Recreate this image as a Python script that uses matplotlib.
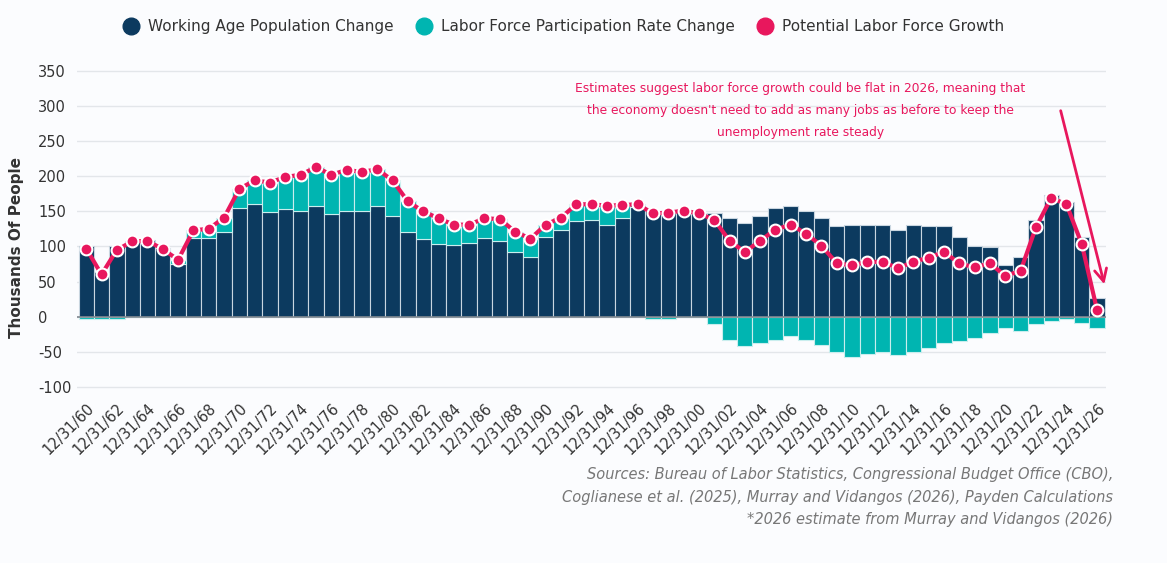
import numpy as np
import matplotlib.pyplot as plt
from matplotlib.lines import Line2D

# annual changes, thousands of people, 1960-2026
years = list(range(1960, 2027))
working_age = [100, 64, 100, 108, 109, 98, 75, 112, 112, 120,
               155, 160, 149, 153, 151, 158, 146, 151, 151, 158,
               144, 120, 111, 103, 102, 105, 112, 107, 92, 85,
               114, 124, 136, 138, 131, 141, 156, 150, 151, 151,
               148, 148, 141, 133, 143, 155, 158, 150, 140, 129,
               131, 131, 131, 124, 131, 129, 129, 113, 100, 99,
               73, 85, 138, 173, 163, 113, 26]
participation = [-3, -4, -4, 0, 0, -1, 6, 11, 13, 21,
                 27, 34, 42, 46, 51, 55, 56, 58, 55, 52,
                 50, 44, 39, 37, 29, 26, 28, 32, 29, 26,
                 17, 17, 24, 22, 27, 18, 4, -3, -3, 0,
                 -1, -10, -33, -42, -37, -33, -28, -33, -40, -51,
                 -58, -53, -51, -55, -51, -45, -38, -35, -31, -23,
                 -16, -21, -11, -6, -4, -9, -16]
potential = [97, 60, 95, 107, 108, 96, 81, 123, 125, 141,
             182, 194, 191, 199, 202, 213, 202, 209, 206, 210,
             194, 164, 150, 140, 131, 131, 140, 139, 121, 111,
             131, 141, 160, 160, 158, 159, 160, 147, 148, 151,
             147, 138, 108, 92, 108, 124, 131, 118, 101, 76,
             73, 78, 78, 69, 78, 84, 92, 76, 70, 76,
             58, 65, 127, 169, 160, 103, 9]
tick_labels = ['12/31/%02d' % (y % 100) for y in years[::2]]

navy = '#0c3a5f'
teal = '#00b5b1'
pink = '#e8175d'
bg = '#fbfcfe'

fig = plt.figure(figsize=(11.67, 5.63), dpi=100, facecolor=bg)
ax = fig.add_axes([0.066, 0.298, 0.882, 0.591], facecolor=bg)

x = np.arange(len(years))
wa = np.array(working_age)
pr = np.array(participation)
ax.bar(x, wa, width=1.0, color=navy, edgecolor='#c9d6e0', linewidth=0.8, zorder=2)
ax.bar(x, pr, width=1.0, bottom=np.where(pr > 0, wa, 0), color=teal,
       edgecolor='#c9eeee', linewidth=0.8, zorder=2)
ax.plot(x, potential, color=pink, lw=3, marker='o', ms=8.5, mfc=pink,
        mec='white', mew=1.5, zorder=4)

ax.set_xlim(-0.6, len(years) - 0.4)
ax.set_ylim(-112, 362)
ax.set_yticks(range(-100, 351, 50))
ax.set_yticklabels([str(v) for v in range(-100, 351, 50)], fontsize=10.5, color='#333333', ha='left')
ax.tick_params(axis='y', length=0, pad=28)
ax.set_xticks(x[::2])
ax.set_xticklabels(tick_labels, rotation=45, ha='right', rotation_mode='anchor', fontsize=10.5, color='#333333')
ax.tick_params(axis='x', length=0, pad=4)
ax.grid(axis='y', color='#e3e6ea', lw=1, zorder=0)
ax.axhline(0, color='#808890', lw=1.2, zorder=3)
for s in ax.spines.values():
    s.set_visible(False)
fig.text(0.014, 0.56, 'Thousands Of People', rotation=90, ha='center', va='center',
         fontsize=11, fontweight='bold', color='#333333')

handles = [Line2D([], [], marker='o', ls='', color=c, ms=12) for c in (navy, teal, pink)]
fig.legend(handles, ['Working Age Population Change', 'Labor Force Participation Rate Change',
                     'Potential Labor Force Growth'],
           loc='center', bbox_to_anchor=(0.48, 0.953), ncol=3, frameon=False, fontsize=11,
           handletextpad=0.1, columnspacing=1.0, labelcolor='#333333')

fig.text(0.686, 0.803, "Estimates suggest labor force growth could be flat in 2026, meaning that\n"
         "the economy doesn't need to add as many jobs as before to keep the\n"
         "unemployment rate steady", ha='center', va='center', color=pink, fontsize=8.8,
         linespacing=1.9)
fig.add_artist(plt.Annotation('', xy=(1105 / 1167, 1 - 287 / 563), xytext=(1060 / 1167, 1 - 108 / 563),
                              xycoords='figure fraction', textcoords='figure fraction',
                              arrowprops=dict(arrowstyle='->', color=pink, lw=2, mutation_scale=22)))

fig.text(0.954, 0.117, 'Sources: Bureau of Labor Statistics, Congressional Budget Office (CBO),\n'
         'Coglianese et al. (2025), Murray and Vidangos (2026), Payden Calculations\n'
         '*2026 estimate from Murray and Vidangos (2026)', ha='right', va='center',
         fontsize=10.5, style='italic', color='#777777', linespacing=1.6)

fig.savefig('out.png', dpi=100, facecolor=bg)
